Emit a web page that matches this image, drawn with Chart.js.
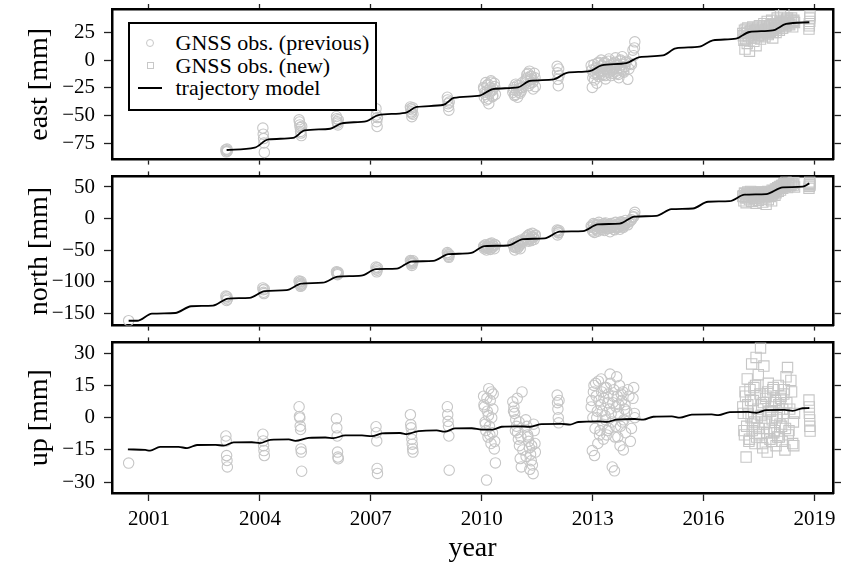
<!DOCTYPE html>
<html>
<head>
<meta charset="utf-8">
<script src="https://cdn.jsdelivr.net/npm/chart.js@4.4.1/dist/chart.umd.min.js"></script>
<style>
  body { margin: 0; background: #fff; }
  #wrap { position: relative; width: 846px; height: 568px; }
  #wrap canvas { position: absolute; left: 0; }
  #legend {
    position: absolute; left: 128px; top: 22px; width: 249px; height: 89px;
    box-sizing: border-box; border: 2.5px solid #000; background: #fff;
    padding-top: 8px; font: 22px 'Liberation Serif', serif; color: #000;
  }
  #legend .row { height: 22.5px; display: flex; align-items: center; white-space: nowrap; }
  #legend .mk { width: 40px; margin-right: 5.5px; display: flex; justify-content: center; align-items: center; }
  #legend .circ { width: 8px; height: 8px; border: 1px solid #c8c8c8; border-radius: 50%; box-sizing: border-box; }
  #legend .sq { width: 7px; height: 7px; border: 1px solid #c8c8c8; box-sizing: border-box; }
  #legend .ln { width: 24px; height: 2px; background: #000; }
</style>
</head>
<body>
<div id="wrap">
  <canvas id="eastChart" width="846" height="168" style="top:0px"></canvas>
  <canvas id="northChart" width="846" height="166" style="top:168px"></canvas>
  <canvas id="upChart" width="846" height="234" style="top:334px"></canvas>
  <div id="legend">
    <div class="row"><span class="mk"><span class="circ"></span></span>GNSS obs. (previous)</div>
    <div class="row"><span class="mk"><span class="sq"></span></span>GNSS obs. (new)</div>
    <div class="row"><span class="mk"><span class="ln"></span></span>trajectory model</div>
  </div>
</div>
<script>
// tick labels
const xTicks = [2001, 2004, 2007, 2010, 2013, 2016, 2019];
const eastTicks = [-75, -50, -25, 0, 25];
const northTicks = [-150, -100, -50, 0, 50];
const upTicks = [-30, -15, 0, 15, 30];

// epochs of the previous campaign observations (shared by the 3 components)
const prevYear = [
  2000.45,
  2003.08, 2003.09, 2003.10, 2003.11, 2003.12,
  2004.08, 2004.09, 2004.10, 2004.11, 2004.12,
  2005.06, 2005.07, 2005.08, 2005.09, 2005.10, 2005.11, 2005.12, 2005.13,
  2006.07, 2006.08, 2006.09, 2006.10, 2006.11, 2006.12,
  2007.14, 2007.15, 2007.16, 2007.17, 2007.18,
  2008.07, 2008.08, 2008.09, 2008.10, 2008.11, 2008.12, 2008.13, 2008.14,
  2009.07, 2009.08, 2009.09, 2009.10, 2009.11, 2009.12,
  2010.05, 2010.07, 2010.09, 2010.11, 2010.13, 2010.15, 2010.17, 2010.19,
  2010.21, 2010.23, 2010.25, 2010.27, 2010.29, 2010.31, 2010.34, 2010.37,
  2010.06, 2010.10, 2010.14, 2010.18, 2010.22, 2010.26, 2010.30, 2010.35,
  2010.84, 2010.87, 2010.89, 2010.92, 2010.94, 2010.97, 2010.99, 2011.02, 2011.04, 2011.07, 2011.09,
  2011.19, 2011.22, 2011.24, 2011.27, 2011.29, 2011.32, 2011.34, 2011.37, 2011.39, 2011.42, 2011.44,
  2010.86, 2010.91, 2010.96, 2011.01, 2011.06, 2011.11, 2011.20, 2011.25, 2011.30, 2011.35, 2011.40, 2011.45,
  2012.04, 2012.05, 2012.06, 2012.07, 2012.08, 2012.09,
  2012.96, 2012.99, 2013.02, 2013.05, 2013.08, 2013.11, 2013.14, 2013.17, 2013.20,
  2013.23, 2013.26, 2013.29, 2013.32, 2013.35, 2013.38, 2013.41, 2013.44, 2013.47,
  2013.50, 2013.53, 2013.56, 2013.59, 2013.62, 2013.65, 2013.68, 2013.71, 2013.74,
  2013.77, 2013.80, 2013.83, 2013.86, 2013.89, 2013.95, 2014.02, 2014.09, 2014.14,
  2012.975, 2013.005, 2013.035, 2013.065, 2013.095, 2013.125, 2013.155, 2013.185, 2013.215,
  2013.245, 2013.275, 2013.305, 2013.335, 2013.365, 2013.395, 2013.425, 2013.455, 2013.485,
  2013.515, 2013.545, 2013.575, 2013.605, 2013.635, 2013.665, 2013.695, 2013.725, 2013.755,
  2013.785, 2013.815, 2013.845, 2013.875, 2013.92, 2013.98, 2014.05, 2014.11, 2014.13
];
const eastPrev = [
  null,
  -81, -83, -82, -80.5, -82.5,
  -61.5, -67, -71, -75, -83.5,
  -54, -56, -58.6, -61, -64.5, -66, -68.3, -60,
  -51, -53, -55.7, -57, -58.6, -54,
  -43.9, -49.7, -55.7, -60.1, -52,
  -42.4, -44, -46.8, -48, -51.2, -45, -43, -49,
  -33.6, -36, -39.5, -42, -45.3, -38,
  -24.7, -33.6, -29, -20.3, -36, -27.6, -22, -39.5,
  -30, -25, -18.8, -28, -33, -26, -21, -31,
  -26, -31, -23, -35, -28, -20, -32, -24,
  -29.2, -24.7, -32.1, -21.8, -27.7, -33.6, -26, -23, -30, -28, -25,
  -18.8, -13, -15.9, -23.2, -10, -14.4, -17.4, -20.3, -26.2, -12, -16,
  -27, -31, -23, -29, -25, -20, -17, -12, -21, -15, -19, -24,
  -5.6, -11.5, -17.4, -23.2, -8, -14,
  -5, -24.7, -12, -18, -8, -21, -3, -15, -10,
  0, -6, -13, -2, -17, -8, -11, 1, -5,
  -14, -9, -3, -7, 2, -12, -4, -16, -1,
  -8, 3, -10, -6, -2, -17.4, -3, 9, 16.5,
  -9, -16, -4, -11, -7, -13, -2, -8, -12,
  -5, -10, -3, -14, -6, -9, -1, -11, -7,
  -4, -12, -8, -2, -10, -5, -13, -7, 0,
  -9, -4, -11, -6, -1, -8, -4, 4, 11
];
const northPrev = [
  -162,
  -123, -126, -130, -124, -128,
  -110, -113, -117, -119, -112,
  -99, -101, -103, -105, -107.5, -100, -104, -106,
  -84.6, -86, -88, -89, -85, -87,
  -77, -80, -84.6, -82, -78,
  -66.7, -68, -70, -72, -74.3, -69, -71, -67,
  -54, -56, -58, -60, -61.6, -57,
  -44, -48, -42, -46, -50, -43, -47, -45,
  -41, -49, -44, -39, -46, -43, -48, -42,
  -45, -42, -47, -44, -40, -46, -43, -41,
  -40, -45, -50, -38, -44, -47, -36, -42, -48, -34, -39,
  -30, -34, -28, -36, -25, -32, -35, -23.4, -29, -33, -27,
  -42, -46, -40, -44, -37, -35, -31, -27, -33, -29, -30, -26,
  -18.3, -26, -20, -23, -22, -19,
  -12, -18, -8, -22, -15, -10, -20, -6, -14,
  -17, -9, -12, -19, -7, -13, -16, -10, -21,
  -8, -14, -11, -18, -6, -15, -9, -13, -17,
  -5, -11, -14, -8, -3, -10, -4, 2, 9.8,
  -14, -20, -10, -16, -12, -18, -9, -15, -11,
  -13, -17, -8, -14, -10, -16, -12, -9, -15,
  -13, -11, -17, -7, -12, -10, -14, -9, -11,
  -6, -13, -8, -10, -7, -5, -2, 3, 6
];
const upPrev = [
  -21.1,
  -8.5, -10.8, -17.6, -19.9, -22.9,
  -7.7, -10.8, -13, -15.3, -17.6,
  5.1, 0.6, -0.1, -3.9, -5.5, -14.5, -16, -24.9,
  -0.5, -4.7, -8.5, -16, -18.3, -19.1,
  -4.2, -7, -10.8, -23.6, -25.9,
  1.4, -3.2, -4.7, -7.7, -10, -12.3, -14.5, -16,
  5.1, 1.4, -1.7, -3.9, -8.5, -24.4,
  10, 5, -2, -6, -29, 3, -9, 13.5,
  -4, 8, -12, 0, -7, 11, -14.5, -21,
  6, -3, 9, 1, -8, 12, 4, -11,
  7.4, 5, 2, -1, -4, -7, -10, -13, -19, -22.9, 12,
  -1, -4, -8, -11, -14, -17, -20, -22, -26, -6, -12,
  3, -6, 9, -2, -9, -15, -18, -9, -24, -13, -3, -16,
  10.5, 7, 4, 0, -2.4, 8,
  5, -15.3, 12, -17.6, 16, 0, -12, 8, -6,
  18, 3, -10, 14, -1, -8, 7, -5, 20.3,
  2, -22.9, 10, -24.7, -4, 19, -9, 6, -13,
  11, -2, -15, 4, -7, 13, -11, 9, 0,
  8, 0, 15, -5, 10, 3, 17, -8, 6,
  12, -3, 9, 1, 14, -6, 11, 4, 16,
  -2, 7, 13, -9, 5, 10, 2, 15, -4,
  8, 12, -1, 6, 3, 10, -5, 14, 2
];

// epochs of the new observations
const newYear = [
  2017.06, 2017.09, 2017.12, 2017.15, 2017.18, 2017.21, 2017.24, 2017.27, 2017.30,
  2017.33, 2017.36, 2017.39, 2017.42, 2017.45, 2017.48, 2017.51, 2017.54, 2017.57,
  2017.60, 2017.63, 2017.66, 2017.69, 2017.72, 2017.75, 2017.78, 2017.81, 2017.84,
  2017.87, 2017.90, 2017.93, 2017.96, 2017.99, 2018.02, 2018.05, 2018.08, 2018.11,
  2018.14, 2018.17, 2018.20, 2018.23, 2018.27, 2018.31, 2018.36, 2018.41, 2018.46,
  2017.075, 2017.105, 2017.135, 2017.165, 2017.195, 2017.225, 2017.255, 2017.285, 2017.315,
  2017.345, 2017.375, 2017.405, 2017.435, 2017.465, 2017.495, 2017.525, 2017.555, 2017.585,
  2017.615, 2017.645, 2017.675, 2017.705, 2017.735, 2017.765, 2017.795, 2017.825, 2017.855,
  2017.885, 2017.915, 2017.945, 2017.975, 2018.005, 2018.035, 2018.065, 2018.095, 2018.125,
  2018.155, 2018.185, 2018.215, 2018.25, 2018.29, 2018.33, 2018.38, 2018.43, 2018.44,
  2018.85, 2018.86, 2018.86, 2018.87, 2018.87, 2018.88
];
const eastNew = [
  24, 18, 10, 28, 15, 22, 8, 26, 20,
  30, 17, 25, 13, 27, 22, 31, 19, 26,
  24, 33, 21, 28, 35, 23, 30, 26, 36,
  20, 29, 33, 25, 38, 31, 27, 40, 34,
  29, 42, 35, 31, 38, 33, 36, 30, 34,
  22, 27, 19, 25, 29, 21, 26, 23, 28,
  24, 20, 27, 25, 29, 23, 26, 28, 22,
  30, 25, 27, 31, 24, 29, 26, 32, 28,
  25, 31, 29, 27, 33, 30, 35, 32, 29,
  36, 33, 31, 37, 34, 32, 38, 35, 36,
  28, 31, 33, 35, 38, 40
];
const northNew = [
  35, 28, 40, 25, 33, 38, 30, 43, 27,
  36, 41, 32, 24, 37, 29, 34, 42, 31,
  26, 38, 33, 22.5, 36, 30, 40, 35, 28,
  39, 44, 37, 41, 47, 43, 50, 45, 52,
  48, 55, 51, 58, 49, 54, 53, 56, 50,
  36, 40, 33, 38, 42, 35, 39, 37, 41,
  34, 38, 40, 36, 39, 42, 35, 37, 40,
  38, 36, 41, 39, 43, 37, 40, 42, 45,
  41, 44, 47, 46, 49, 48, 51, 50, 53,
  52, 55, 51, 54, 56, 52, 55, 53, 57,
  48, 51, 54, 56, 58, 53
];
const upNew = [
  5, -6, 12, -18.3, 18, 2, -10, 8, 25,
  -3, 14, -12, 28, 0, 20, -8, 32.4, 6,
  -14, 24, -2, 10, -16, 16, -5, 3, -11,
  13, -7, 7, -13, 1, 15, -9, 9, -4,
  4, 11, -15, 19, 23.3, -6, 17.3, -12, 2,
  2, -8, 10, -4, 6, -11, 13, 0, -6,
  8, -2, 15, -9, 4, -5, 11, 1, -12,
  7, -3, 9, -7, 12, 3, -10, 5, -1,
  14, -6, 8, 0, -9, 6, -3, 10, -11,
  2, 13, -5, 7, -8, 4, 12, -2, -13,
  8.2, 5, 2, -1, -4, -6.2
];

// trajectory model
const eastTrajYear = [2003.1, 2003.86, 2004.23, 2004.9, 2005.21, 2005.9, 2006.21, 2006.89, 2007.2, 2007.93,
  2008.24, 2008.97, 2009.24, 2009.95, 2010.3, 2010.98, 2011.3, 2011.95, 2012.3, 2012.92,
  2013.24, 2013.91, 2014.27, 2014.9, 2015.25, 2015.89, 2016.25, 2016.88, 2017.24, 2017.87, 2018.23, 2018.86];
const eastTraj = [-81.3, -79.2, -71.8, -70.4, -63.6, -62.1, -57.2, -55.1, -49.7, -47.7,
  -42.4, -40.4, -34.2, -32.1, -26.2, -24.7, -18.8, -17.4, -11.5, -10.0,
  -4.7, -2.7, 2.7, 4.2, 10.6, 12.1, 17.9, 19.4, 25.4, 26.8, 32.7, 34.2];

const northTrajYear = [2000.45, 2000.68, 2001.08, 2001.71, 2002.14, 2002.73, 2003.14, 2003.72, 2004.13, 2004.72,
  2005.12, 2005.7, 2006.11, 2006.74, 2007.14, 2007.7, 2008.1, 2008.69, 2009.1, 2009.68,
  2010.08, 2010.71, 2011.12, 2011.7, 2012.11, 2012.74, 2013.14, 2013.73, 2014.13, 2014.72,
  2015.13, 2015.71, 2016.12, 2016.7, 2017.11, 2017.69, 2018.14, 2018.68, 2018.86];
const northTraj = [-162.1, -162.1, -150.8, -149.8, -139.1, -138.1, -126.9, -125.8, -115.1, -113.6,
  -103.4, -101.8, -92.2, -90.7, -80.4, -79.5, -68.2, -67.3, -56.6, -55.0,
  -43.7, -42.8, -32.6, -31.5, -20.8, -19.9, -9.2, -8.1, 3.1, 4.1,
  14.8, 15.9, 26.6, 27.5, 37.8, 38.8, 49.5, 50.5, 55.7];

const upTrajYear = [2000.43, 2000.9, 2001.03, 2001.3, 2001.8, 2002.03, 2002.3, 2002.8, 2003.02, 2003.29,
  2003.78, 2004.0, 2004.28, 2004.78, 2004.96, 2005.32, 2005.77, 2005.99, 2006.31, 2006.76,
  2007.03, 2007.3, 2007.79, 2007.97, 2008.29, 2008.78, 2009.0, 2009.27, 2009.73, 2010.0,
  2010.3, 2010.54, 2010.99, 2011.31, 2011.62, 2012.16, 2012.39, 2012.61, 2013.15, 2013.38,
  2013.65, 2014.14, 2014.37, 2014.64, 2015.14, 2015.36, 2015.68, 2016.22, 2016.4, 2016.71,
  2017.2, 2017.43, 2017.7, 2018.19, 2018.41, 2018.68, 2018.86];
const upTraj = [-14.7, -15.0, -15.3, -13.6, -13.6, -14.1, -12.7, -12.6, -13.0, -11.5,
  -11.4, -11.8, -10.3, -10.1, -10.8, -9.4, -9.2, -9.5, -8.2, -8.2,
  -8.6, -7.3, -7.1, -7.6, -6.2, -5.9, -6.5, -5.0, -4.9, -5.5,
  -5.5, -4.2, -4.0, -4.2, -3.0, -2.9, -3.2, -2.0, -1.7, -1.95,
  -0.9, -0.6, -0.9, 0.45, 0.6, 0.0, 1.4, 1.5, 1.2, 2.6,
  2.7, 2.3, 3.5, 3.6, 3.2, 4.4, 4.5];

Chart.defaults.font.family = "'Liberation Serif', 'Times New Roman', serif";
Chart.defaults.color = '#000';

const obsGrey = 'rgb(198,198,198)';

function pts(xs, ys) {
    return xs.map((x, i) => ({ x: x, y: ys[i] }));
}

function fmtTick(v) {
    return v < 0 ? '\u2212' + Math.abs(v) : String(v);
}

function setTicks(list) {
    return scale => { scale.ticks = list.map(v => ({ value: v })); };
}

// fixed axis sizes so the three panels line up exactly
function fixHeight(h) {
    return s => { s.height = h; s.paddingLeft = 0; s.paddingRight = 0; };
}
function fixWidth(w) {
    return s => { s.width = w; s.paddingTop = 0; s.paddingBottom = 0; };
}

function tickGrid(len) {
    return { display: true, drawOnChartArea: false, drawTicks: true, tickLength: len, color: '#000', tickColor: '#222', tickWidth: 1.3 };
}

const frameBorder = { display: true, color: '#000', width: 2.5 };

function makePanel(canvasId, p) {
    const ctx = document.getElementById(canvasId).getContext('2d');
    return new Chart(ctx, {
        type: 'scatter',
        data: {
            datasets: [{
                label: 'trajectory model',
                data: pts(p.trajYear, p.traj),
                showLine: true,
                borderColor: '#000',
                borderWidth: 1.8,
                pointRadius: 0,
                cubicInterpolationMode: 'monotone',
                order: 0
            }, {
                label: 'GNSS obs. (previous)',
                data: pts(prevYear, p.prev),
                pointStyle: 'circle',
                pointRadius: 5.2,
                borderWidth: 1.1,
                borderColor: obsGrey,
                backgroundColor: 'rgba(0,0,0,0)',
                order: 1
            }, {
                label: 'GNSS obs. (new)',
                data: pts(newYear, p.neu),
                pointStyle: 'rect',
                pointRadius: 7.3,
                borderWidth: 1.1,
                borderColor: obsGrey,
                backgroundColor: 'rgba(0,0,0,0)',
                order: 1
            }]
        },
        options: {
            responsive: false,
            animation: false,
            events: [],
            layout: { padding: 0 },
            plugins: { legend: { display: false }, tooltip: { enabled: false } },
            scales: {
                x: {
                    type: 'linear', position: 'bottom', min: 2000, max: 2019.5,
                    afterBuildTicks: setTicks(xTicks),
                    afterFit: fixHeight(p.bottomH),
                    border: frameBorder,
                    grid: tickGrid(p.bottomTick),
                    ticks: { display: p.isBottom, padding: 6, maxRotation: 0, autoSkip: false, font: { size: 21 }, callback: v => String(v) },
                    title: { display: p.isBottom, text: 'year', font: { size: 28 }, padding: { top: 0, bottom: 3 } }
                },
                xTop: {
                    type: 'linear', position: 'top', min: 2000, max: 2019.5,
                    afterBuildTicks: setTicks(xTicks),
                    afterFit: fixHeight(p.topH),
                    border: frameBorder,
                    grid: tickGrid(5),
                    ticks: { display: false }
                },
                y: {
                    type: 'linear', position: 'left', min: p.yMin, max: p.yMax,
                    afterBuildTicks: setTicks(p.yTicks),
                    afterFit: fixWidth(112),
                    border: frameBorder,
                    grid: tickGrid(8),
                    ticks: { padding: 9, font: { size: 21 }, callback: fmtTick },
                    title: { display: true, text: p.yTitle, font: { size: 28 }, padding: { top: 23, bottom: 0 } }
                },
                yRight: {
                    type: 'linear', position: 'right', min: p.yMin, max: p.yMax,
                    afterBuildTicks: setTicks(p.yTicks),
                    afterFit: fixWidth(13),
                    border: frameBorder,
                    grid: tickGrid(8),
                    ticks: { display: false }
                }
            }
        }
    });
}

makePanel('eastChart', {
    trajYear: eastTrajYear, traj: eastTraj, prev: eastPrev, neu: eastNew,
    yMin: -90, yMax: 46.2, yTicks: eastTicks, yTitle: 'east [mm]',
    topH: 9, bottomH: 5, bottomTick: 5, isBottom: false
});

makePanel('northChart', {
    trajYear: northTrajYear, traj: northTraj, prev: northPrev, neu: northNew,
    yMin: -169.8, yMax: 66.8, yTicks: northTicks, yTitle: 'north [mm]',
    topH: 5, bottomH: 6, bottomTick: 5, isBottom: false
});

makePanel('upChart', {
    trajYear: upTrajYear, traj: upTraj, prev: upPrev, neu: upNew,
    yMin: -35, yMax: 35, yTicks: upTicks, yTitle: 'up [mm]',
    topH: 5, bottomH: 75, bottomTick: 8, isBottom: true
});
</script>
</body>
</html>
